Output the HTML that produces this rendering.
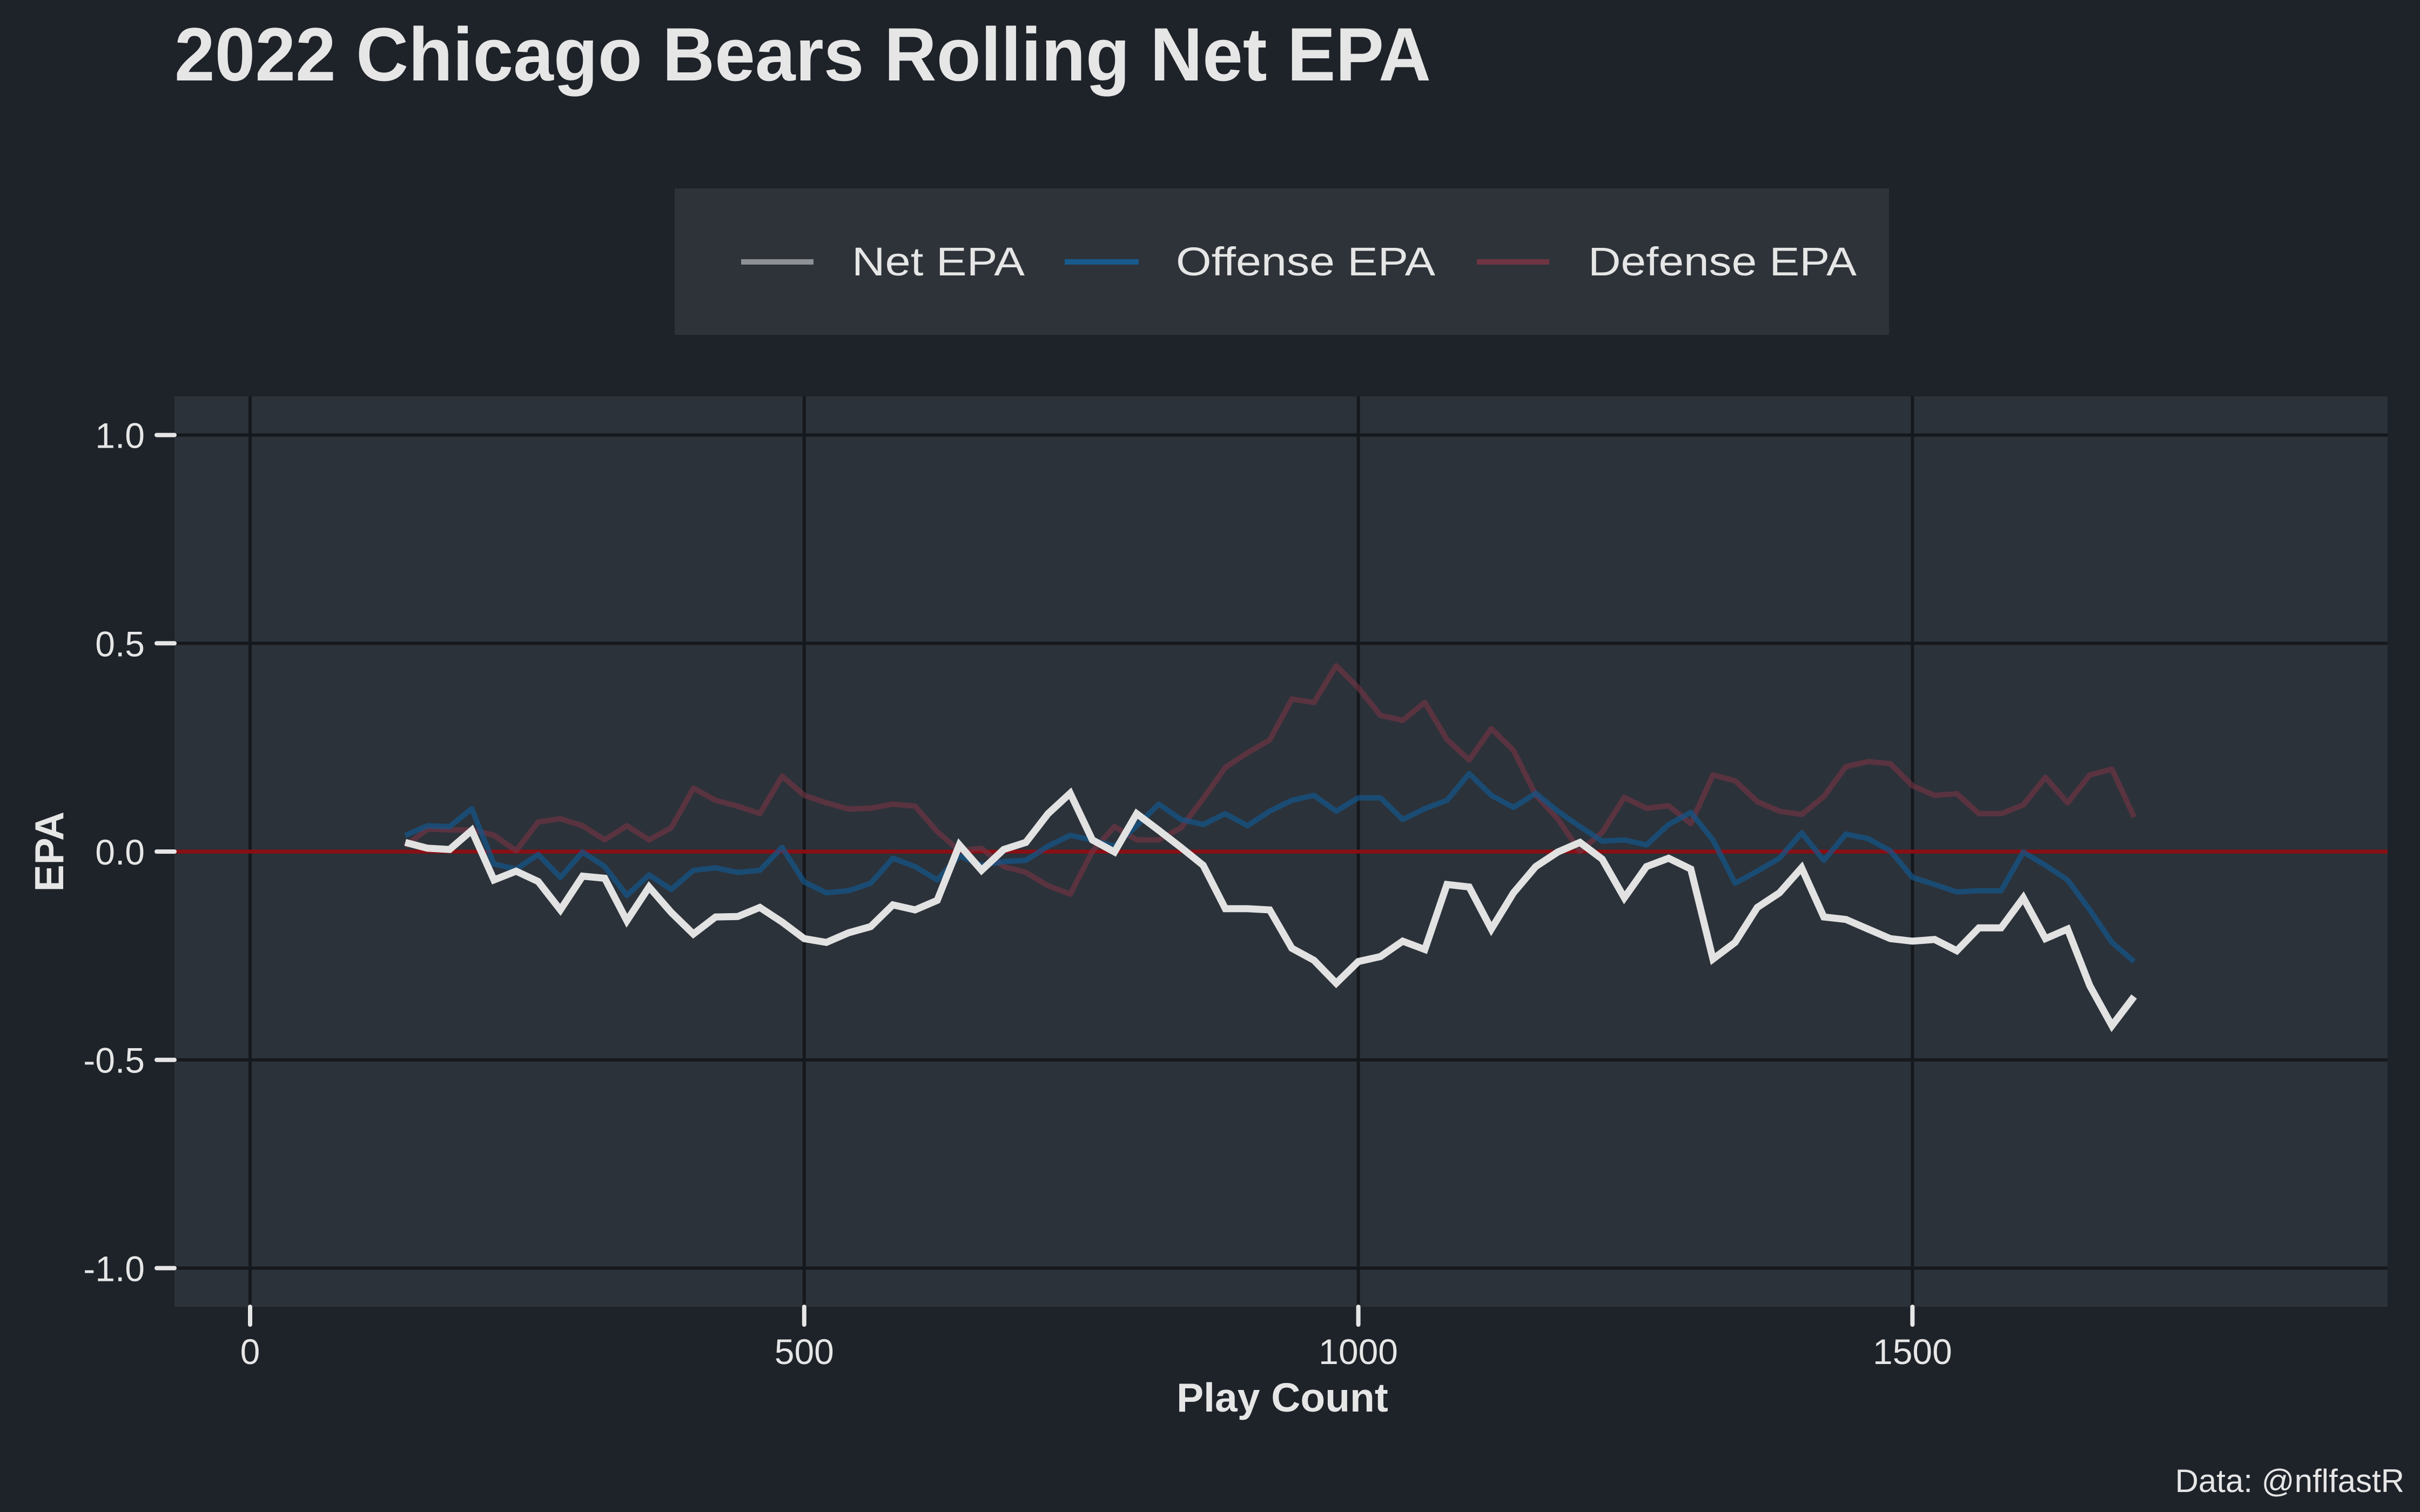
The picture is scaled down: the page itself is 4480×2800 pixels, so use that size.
<!DOCTYPE html>
<html><head><meta charset="utf-8"><style>
html,body{margin:0;padding:0;background:#1e2229;}
svg{display:block;}
text{font-family:"Liberation Sans",sans-serif;fill:#e6e6e6;}
</style></head><body>
<svg id="chart" width="4480" height="2800" viewBox="0 0 4480 2800" xmlns="http://www.w3.org/2000/svg">
<rect x="0" y="0" width="4480" height="2800" fill="#1e2229"/>
<text x="323" y="149" font-size="140" font-weight="bold" textLength="2326" lengthAdjust="spacingAndGlyphs">2022 Chicago Bears Rolling Net EPA</text>
<g>
<rect x="1249" y="349" width="2248" height="271" fill="#2e3339"/>
<g>
<line x1="1372" y1="485" x2="1506" y2="485" stroke="#8d9094" stroke-width="10"/>
<text x="1577" y="510" font-size="74" textLength="320" lengthAdjust="spacingAndGlyphs">Net EPA</text></g>
<g>
<line x1="1971" y1="485" x2="2108" y2="485" stroke="#175b8e" stroke-width="10"/>
<text x="2177" y="510" font-size="74" textLength="480" lengthAdjust="spacingAndGlyphs">Offense EPA</text></g>
<g>
<line x1="2734" y1="485" x2="2868" y2="485" stroke="#6e3443" stroke-width="10"/>
<text x="2940" y="510" font-size="74" textLength="497" lengthAdjust="spacingAndGlyphs">Defense EPA</text></g>
</g>
<rect x="323" y="734" width="4097" height="1686" fill="#2c3239"/>
<g id="grid"></g>
<g id="axes"></g>
<g id="series"></g>
<text x="2374" y="2614" font-size="75" font-weight="bold" text-anchor="middle">Play Count</text>
<text x="0" y="0" font-size="75" font-weight="bold" text-anchor="middle" transform="translate(117,1577) rotate(-90)">EPA</text>
<text x="4451" y="2763" font-size="60" text-anchor="end" fill="#d0d0d0">Data: @nflfastR</text>
</svg>
<script>
const xTicks = [0, 500, 1000, 1500];
const xTickLabels = ["0", "500", "1000", "1500"];
const yTicks = [1.0, 0.5, 0.0, -0.5, -1.0];
const yTickLabels = ["1.0", "0.5", "0.0", "-0.5", "-1.0"];
const playStart = 140;
const playStep = 20;
const netEPA = [0.022,0.008,0.005,0.051,-0.068,-0.047,-0.072,-0.140,-0.059,-0.064,-0.166,-0.085,-0.146,-0.198,-0.157,-0.156,-0.134,-0.169,-0.209,-0.218,-0.195,-0.180,-0.128,-0.140,-0.117,0.016,-0.045,0.005,0.022,0.091,0.140,
0.028,-0.001,0.091,0.051,0.010,-0.033,-0.137,-0.137,-0.140,-0.232,-0.261,-0.316,-0.264,-0.252,-0.215,-0.235,-0.079,-0.085,-0.186,-0.099,-0.036,-0.001,0.022,-0.018,-0.111,-0.036,-0.016,-0.042,-0.258,-0.218,-0.134,-0.099,
-0.039,-0.157,-0.163,-0.186,-0.209,-0.215,-0.211,-0.238,-0.183,-0.183,-0.111,-0.209,-0.186,-0.322,-0.418,-0.348];
const offenseEPA = [0.039,0.062,0.060,0.103,-0.030,-0.042,-0.007,-0.062,-0.001,-0.036,-0.105,-0.056,-0.091,-0.045,-0.039,-0.050,-0.045,0.010,-0.073,-0.099,-0.094,-0.076,-0.016,-0.036,-0.068,-0.010,-0.033,-0.024,-0.021,0.013,0.039,
0.028,0.013,0.062,0.114,0.077,0.065,0.091,0.062,0.097,0.123,0.135,0.097,0.129,0.129,0.077,0.103,0.123,0.187,0.135,0.106,0.140,0.097,0.060,0.025,0.028,0.016,0.065,0.094,0.028,-0.076,-0.047,-0.016,
0.045,-0.021,0.042,0.031,0.002,-0.062,-0.079,-0.097,-0.094,-0.094,-0.001,-0.033,-0.068,-0.140,-0.218,-0.264];
const defenseEPA = [0.013,0.054,0.052,0.052,0.039,0.002,0.071,0.079,0.062,0.028,0.062,0.028,0.057,0.152,0.123,0.109,0.091,0.181,0.135,0.117,0.102,0.104,0.114,0.109,0.048,0.002,0.008,-0.036,-0.050,-0.082,-0.102,
0.0,0.060,0.028,0.028,0.057,0.127,0.202,0.237,0.268,0.366,0.358,0.446,0.393,0.327,0.315,0.358,0.269,0.220,0.295,0.243,0.136,0.078,0.001,0.046,0.130,0.104,0.110,0.067,0.184,0.170,0.120,0.097,
0.089,0.132,0.204,0.216,0.211,0.158,0.135,0.139,0.091,0.091,0.112,0.178,0.117,0.184,0.198,0.083];

const NS = "http://www.w3.org/2000/svg";
const X0 = 463, XS = 2.0516, Y0 = 1577, YS = 771.4;
function xPos(v){ return X0 + v * XS; }
function yPos(v){ return Y0 - v * YS; }
function mk(tag, attrs, parent){ const e = document.createElementNS(NS, tag); for (const k in attrs) e.setAttribute(k, attrs[k]); parent.appendChild(e); return e; }
const grid = document.getElementById('grid');
const axes = document.getElementById('axes');
const series = document.getElementById('series');
yTicks.forEach((t, i) => {
  const g = mk('line', {x1:323, x2:4420, y1:yPos(t), y2:yPos(t), stroke:'#15191d', 'stroke-width':6}, grid);
  
  
  const tk = mk('line', {x1:290, x2:323, y1:yPos(t), y2:yPos(t), stroke:'#e6e6e6', 'stroke-width':8, 'stroke-linecap':'round'}, axes);
  
  
  const lb = mk('text', {x:268, y:yPos(t) + 24, 'font-size':66, 'text-anchor':'end'}, axes);
  lb.textContent = yTickLabels[i];
  
  
});
xTicks.forEach((t, i) => {
  const g = mk('line', {x1:xPos(t), x2:xPos(t), y1:734, y2:2420, stroke:'#15191d', 'stroke-width':6}, grid);
  
  
  const tk = mk('line', {x1:xPos(t), x2:xPos(t), y1:2420, y2:2453, stroke:'#e6e6e6', 'stroke-width':8, 'stroke-linecap':'round'}, axes);
  
  
  const lb = mk('text', {x:xPos(t), y:2526, 'font-size':66, 'text-anchor':'middle'}, axes);
  lb.textContent = xTickLabels[i];
  
  
});
const zl = mk('line', {x1:323, x2:4420, y1:yPos(0), y2:yPos(0), stroke:'#8b0e14', 'stroke-width':7}, grid);


function pts(arr){ return arr.map((v, i) => xPos(playStart + i * playStep).toFixed(1) + ',' + yPos(v).toFixed(1)).join(' '); }
const dl = mk('polyline', {points:pts(defenseEPA), fill:'none', stroke:'#7a3446', 'stroke-opacity':0.6, 'stroke-width':10, 'stroke-linejoin':'round'}, series);


const ol = mk('polyline', {points:pts(offenseEPA), fill:'none', stroke:'#12568c', 'stroke-opacity':0.7, 'stroke-width':10, 'stroke-linejoin':'round'}, series);


const nl = mk('polyline', {points:pts(netEPA), fill:'none', stroke:'#e2e2e2', 'stroke-width':13, 'stroke-linejoin':'miter'}, series);


</script>
</body></html>
